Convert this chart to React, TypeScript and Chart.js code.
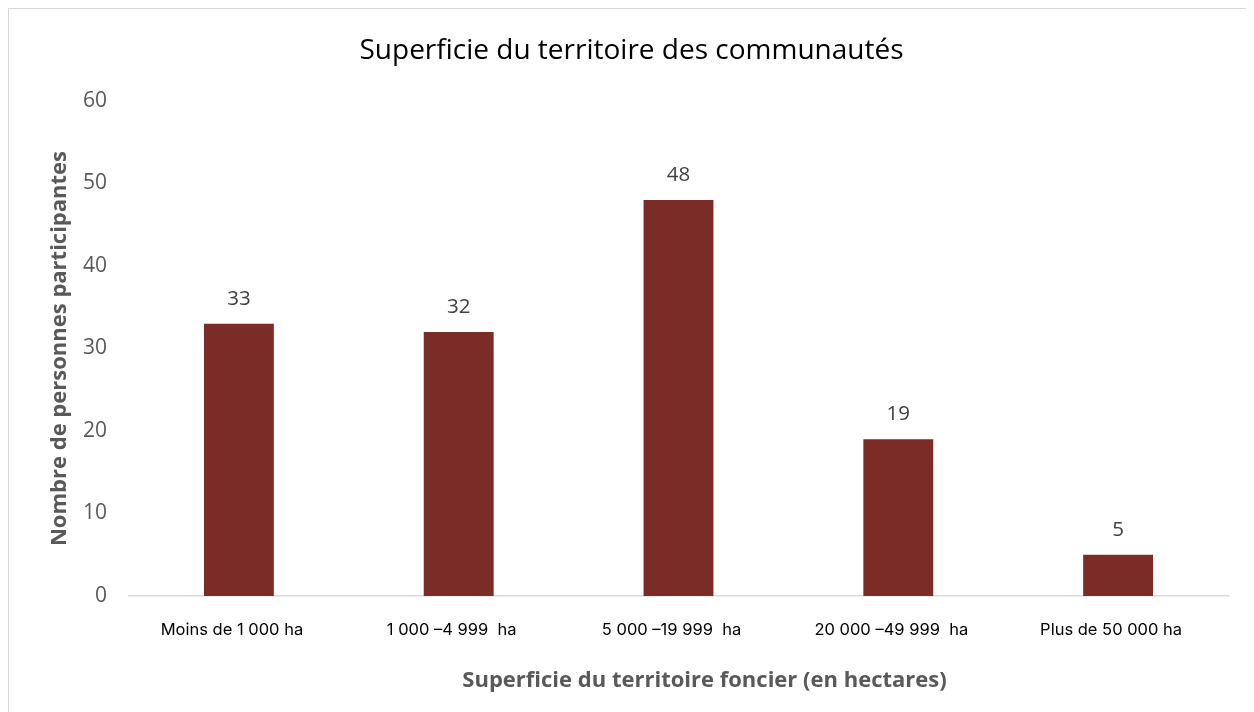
import React, { useEffect, useRef } from "react";
import { Chart, registerables } from "chart.js";

Chart.register(...registerables);

const categories: string[] = [
  "Moins de 1 000 ha",
  "1 000 –4 999  ha",
  "5 000 –19 999  ha",
  "20 000 –49 999  ha",
  "Plus de 50 000 ha",
];
const values: number[] = [33, 32, 48, 19, 5];
const yTicks: number[] = [0, 10, 20, 30, 40, 50, 60];

const chartTitle = "Superficie du territoire des communautés";
const yTitle = "Nombre de personnes participantes";
const xTitle = "Superficie du territoire foncier (en hectares)";

const BAR_COLOR = "#7B2C27";
const GRAY = "#595959";

const dataLabelPlugin = {
  id: "dataLabels",
  afterDatasetsDraw(chart: any) {
    const ctx = chart.ctx;
    const meta = chart.getDatasetMeta(0);
    ctx.save();
    ctx.font = "20.5px 'Open Sans'";
    ctx.fillStyle = "#404040";
    ctx.textAlign = "center";
    ctx.textBaseline = "middle";
    meta.data.forEach((bar: any, i: number) => {
      ctx.fillText(String(values[i]), bar.x, bar.y - 25);
    });
    ctx.restore();
  },
};

const titlesPlugin = {
  id: "titles",
  afterDraw(chart: any) {
    const ctx = chart.ctx;
    const area = chart.chartArea;
    ctx.save();
    ctx.textAlign = "center";
    ctx.textBaseline = "middle";
    ctx.font = "28px 'Open Sans'";
    ctx.fillStyle = "#000000";
    ctx.fillText(chartTitle, chart.width / 2, 42);
    ctx.font = "bold 22px 'Open Sans'";
    ctx.fillStyle = GRAY;
    ctx.fillText(xTitle, (area.left + area.right) / 2 + 26, chart.height - 31);
    ctx.restore();
  },
};

export default function App() {
  const canvasRef = useRef<HTMLCanvasElement | null>(null);

  useEffect(() => {
    if (!canvasRef.current) return;
    const chart = new Chart(canvasRef.current, {
      type: "bar",
      data: {
        labels: categories,
        datasets: [
          {
            data: values,
            backgroundColor: BAR_COLOR,
            borderWidth: 0,
            categoryPercentage: 1,
            barPercentage: 0.318,
          },
        ],
      },
      options: {
        animation: false,
        responsive: true,
        maintainAspectRatio: false,
        layout: { padding: { left: 0, right: 26, top: 92, bottom: 0 } },
        plugins: {
          legend: { display: false },
          tooltip: { enabled: false },
          title: { display: false },
        },
        scales: {
          x: {
            grid: {
              display: true,
              drawOnChartArea: false,
              drawTicks: false,
            },
            border: { display: true, color: "#D9D9D9", width: 1.5 },
            ticks: {
              color: "#000000",
              font: { family: "Inter", size: 16.5 },
              padding: 24,
              labelOffset: -7,
              maxRotation: 0,
              autoSkip: false,
            },
            afterFit(scale: any) {
              scale.height = 116;
            },
          },
          y: {
            min: 0,
            max: 60,
            afterBuildTicks(scale: any) {
              scale.ticks = yTicks.map((v) => ({ value: v }));
            },
            grid: { display: false, drawTicks: false },
            border: { display: false },
            ticks: {
              color: GRAY,
              font: { family: "'Open Sans'", size: 21 },
              padding: 22,
            },
            title: {
              display: true,
              text: yTitle,
              color: GRAY,
              font: { family: "'Open Sans'", size: 22, weight: "bold" },
              padding: { top: 37.8, bottom: 0 },
            },
            afterFit(scale: any) {
              scale.width = 120;
            },
          },
        },
      },
      plugins: [dataLabelPlugin, titlesPlugin],
    });
    return () => chart.destroy();
  }, []);

  return (
    <div
      style={{
        width: 1246,
        height: 704,
        boxSizing: "border-box",
        borderTop: "1px solid #D9D9D9",
        borderLeft: "1px solid #D9D9D9",
        position: "relative",
        background: "#FFFFFF",
      }}
    >
      <canvas ref={canvasRef} />
    </div>
  );
}
